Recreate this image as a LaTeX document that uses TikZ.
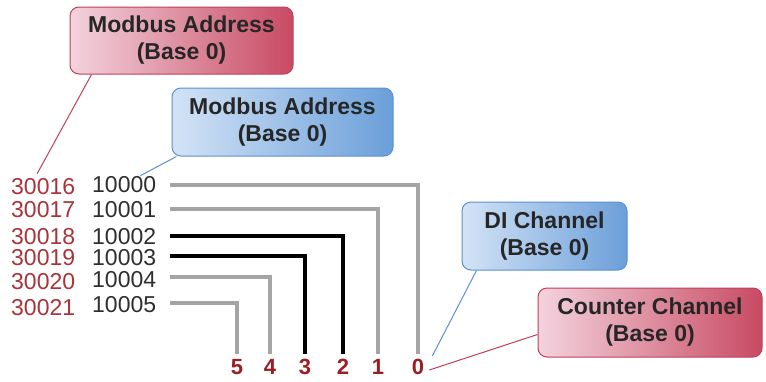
\documentclass[tikz,border=0pt]{standalone}
\usepackage{fontspec}
\setmainfont{Liberation Sans}
\definecolor{redtxt}{HTML}{A8343A}
\definecolor{digred}{HTML}{9A1E22}
\definecolor{numblk}{HTML}{2E2E2E}
\definecolor{linegray}{HTML}{A4A4A4}
\definecolor{pinkL}{HTML}{F3D3DE}
\definecolor{pinkR}{HTML}{C84A63}
\definecolor{pinkB}{HTML}{C03F58}
\definecolor{blueL}{HTML}{D3E3F6}
\definecolor{blueR}{HTML}{6B9FD9}
\definecolor{blueB}{HTML}{5B90D2}
\tikzset{
  redbox/.style={draw=pinkB, line width=1pt, left color=pinkL, right color=pinkR, rounded corners=9pt, align=center, inner sep=0pt, font=\fontsize{23}{27}\selectfont\bfseries, text=black!85},
  bluebox/.style={draw=blueB, line width=1pt, left color=blueL, right color=blueR, rounded corners=9pt, align=center, inner sep=0pt, font=\fontsize{23}{27}\selectfont\bfseries, text=black!85},
  rednum/.style={anchor=west, inner sep=0pt, text=redtxt, font=\fontsize{23}{24}\selectfont},
  blknum/.style={anchor=west, inner sep=0pt, text=numblk, font=\fontsize{23}{24}\selectfont},
  chan/.style={inner sep=0pt, text=digred, font=\fontsize{22}{22}\selectfont\bfseries},
  glead/.style={draw=linegray, line width=4.5pt},
  bklead/.style={draw=black, line width=4.5pt},
  redcall/.style={draw=pinkB, line width=1pt},
  bluecall/.style={draw=blueB, line width=1pt}
}
\begin{document}
\begin{tikzpicture}[x=1pt,y=-1pt]
\useasboundingbox (0,0) rectangle (766,381);
% boxes
\node[redbox, minimum width=223pt, minimum height=67pt] (mbr) at (181.5,40.5) {Modbus Address\\(Base 0)};
\node[bluebox, minimum width=221pt, minimum height=68pt] (mbb) at (282.5,122) {Modbus Address\\(Base 0)};
\node[bluebox, minimum width=165pt, minimum height=68pt] (dic) at (544.5,236) {DI Channel\\(Base 0)};
\node[redbox, minimum width=224pt, minimum height=69pt] (cnt) at (650,322.5) {Counter Channel\\(Base 0)};
% numbers
\foreach \i/\ry/\by in {0/187/185,1/210/210,2/237/237,3/258/258,4/282/280,5/308/305}{
  \node[rednum] (r\i) at (11,\ry) {\number\numexpr30016+\i\relax};
  \node[blknum] (a\i) at (92,\by) {1000\i};
}
% channel digits
\foreach \i/\x in {0/418,1/378,2/343,3/305,4/270,5/237}{
  \node[chan] (d\i) at (\x,367) {\i};
}
% leads
\foreach \i/\s/\st in {0/0/glead,1/1/glead,2/1/bklead,3/2/bklead,4/3/glead,5/2/glead}{
  \draw[\st, shorten >=5pt] ([xshift=14pt,yshift=\s pt]a\i.east) -| (d\i.north);
}
% callouts
\draw[redcall] ([xshift=22pt]mbr.south west) -- ([xshift=-6pt,yshift=5pt]r0.north);
\draw[bluecall] ([xshift=5pt]mbb.south west) -- ([xshift=-16pt,yshift=1pt]a0.north east);
\draw[bluecall] ([xshift=15pt]dic.south west) -- ([xshift=8pt,yshift=3pt]d0.north east);
\draw[redcall] ([yshift=-12pt]cnt.west) -- ([xshift=5pt,yshift=-3pt]d0.east);
\end{tikzpicture}
\end{document}
